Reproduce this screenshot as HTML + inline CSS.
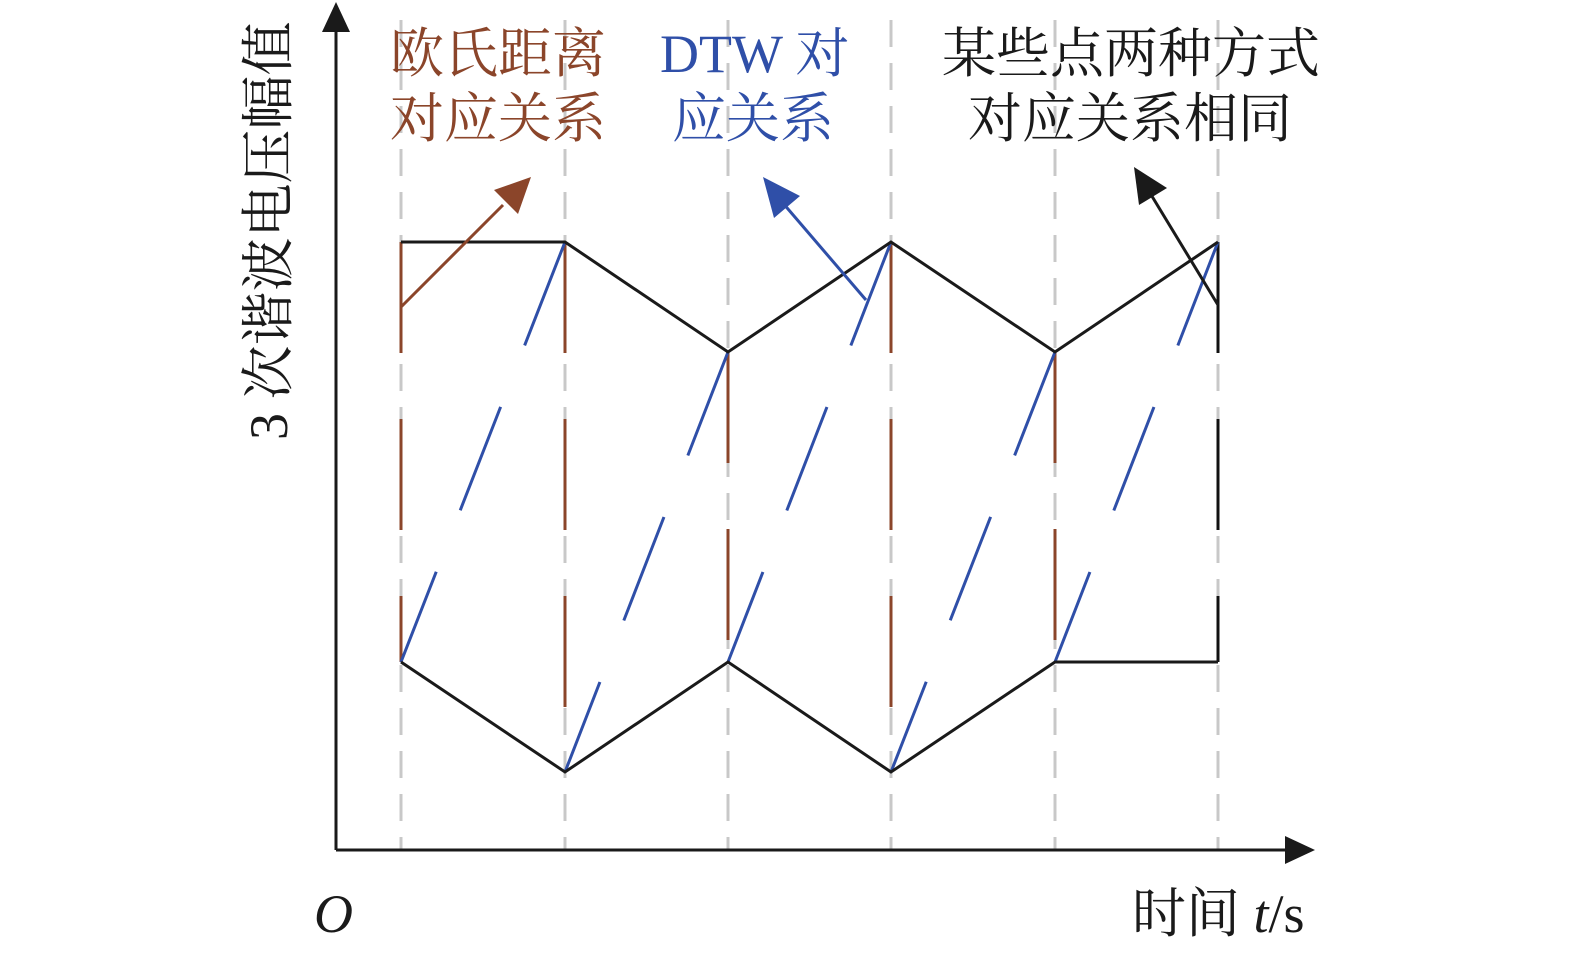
<!DOCTYPE html>
<html><head><meta charset="utf-8"><style>
body{margin:0;background:#fff;}
svg{display:block}
text{font-family:"Liberation Serif","Noto Serif CJK SC",serif;}
</style></head><body>
<svg width="1575" height="954" viewBox="0 0 1575 954" xmlns="http://www.w3.org/2000/svg">
<g stroke="#c8c8c8" stroke-width="3" stroke-dasharray="27 16">
<line x1="401" y1="20" x2="401" y2="850"/><line x1="565" y1="20" x2="565" y2="850"/>
<line x1="728" y1="20" x2="728" y2="850"/><line x1="891" y1="20" x2="891" y2="850"/>
<line x1="1055" y1="20" x2="1055" y2="850"/><line x1="1218" y1="20" x2="1218" y2="850"/>
</g>
<g stroke="#8b452a" stroke-width="3" stroke-dasharray="111 66">
<line x1="401" y1="242" x2="401" y2="662"/><line x1="565" y1="242" x2="565" y2="772"/>
<line x1="728" y1="352" x2="728" y2="662"/><line x1="891" y1="242" x2="891" y2="772"/>
<line x1="1055" y1="352" x2="1055" y2="662"/>
</g>
<line x1="1218" y1="242" x2="1218" y2="662" stroke="#111" stroke-width="3" stroke-dasharray="111 66"/>
<g stroke="#2f4fa8" stroke-width="3" stroke-dasharray="111 66">
<line x1="565" y1="242" x2="401" y2="662"/><line x1="728" y1="352" x2="565" y2="772"/>
<line x1="891" y1="242" x2="728" y2="662"/><line x1="1055" y1="352" x2="891" y2="772"/>
<line x1="1218" y1="242" x2="1055" y2="662"/>
</g>
<g fill="none" stroke="#1a1a1a" stroke-width="3">
<polyline points="401,242 565,242 728,352 891,242 1055,352 1218,242"/>
<polyline points="401,662 565,772 728,662 891,772 1055,662 1218,662"/>
</g>
<line x1="401" y1="307" x2="503" y2="205" stroke="#8b452a" stroke-width="3"/>
<polygon points="531,177 518,214 494,190" fill="#8b452a"/>
<line x1="866" y1="300" x2="782" y2="202" stroke="#2f4fa8" stroke-width="3"/>
<polygon points="763,177 800,196 774,218" fill="#2f4fa8"/>
<line x1="1218" y1="305" x2="1150" y2="193" stroke="#1a1a1a" stroke-width="3"/>
<polygon points="1134,167 1167,188 1139,205" fill="#1a1a1a"/>
<g stroke="#1a1a1a" stroke-width="3">
<line x1="336" y1="850" x2="1290" y2="850"/><line x1="336" y1="850" x2="336" y2="30"/>
</g>
<polygon points="1315,850 1285,836 1285,864" fill="#1a1a1a"/>
<polygon points="336,2 322,32 350,32" fill="#1a1a1a"/>
<g font-size="54">
<text x="390" y="72" fill="#8b452a">欧氏距离</text>
<text x="390" y="137" fill="#8b452a">对应关系</text>
<text x="660" y="72" fill="#2f4fa8">DTW 对</text>
<text x="672" y="137" fill="#2f4fa8">应关系</text>
<text x="942" y="72" fill="#1a1a1a">某些点两种方式</text>
<text x="968" y="137" fill="#1a1a1a">对应关系相同</text>
<text x="1132" y="932" fill="#1a1a1a">时间 <tspan font-style="italic">t</tspan>/s</text>
<text x="314" y="932" fill="#1a1a1a" font-style="italic">O</text>
<text transform="translate(287,440) rotate(-90)" fill="#1a1a1a">3 次谐波电压幅值</text>
</g>
</svg>
</body></html>
